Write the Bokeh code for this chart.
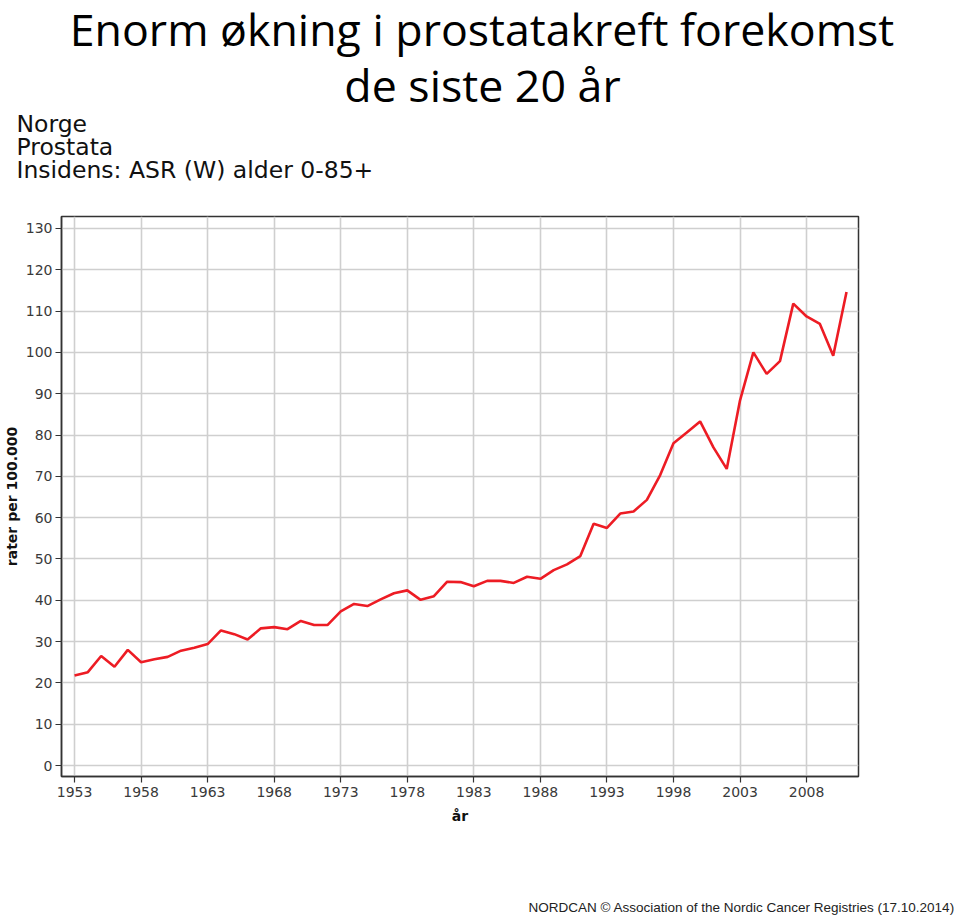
from bokeh.plotting import figure
from bokeh.models import Label, FixedTicker, Range1d
from bokeh.layouts import column
from bokeh.embed import file_html
from bokeh.resources import INLINE

years = list(range(1953, 2012))
rates = [21.8, 22.6, 26.5, 23.9, 28.0, 25.0, 25.7, 26.3, 27.8, 28.5,
         29.4, 32.7, 31.8, 30.5, 33.2, 33.5, 33.0, 35.0, 34.0, 34.0,
         37.3, 39.1, 38.6, 40.2, 41.7, 42.4, 40.1, 41.0, 44.5, 44.4,
         43.4, 44.7, 44.7, 44.2, 45.7, 45.2, 47.3, 48.7, 50.7, 58.5,
         57.5, 61.0, 61.5, 64.3, 70.3, 78.0, 80.6, 83.3, 77.0, 71.8,
         88.4, 100.0, 94.8, 97.9, 111.8, 108.7, 106.9, 99.2, 114.6]
x_ticks = [1953, 1958, 1963, 1968, 1973, 1978, 1983, 1988, 1993, 1998, 2003, 2008]
y_ticks = [0, 10, 20, 30, 40, 50, 60, 70, 80, 90, 100, 110, 120, 130]

title_lines = ["Enorm økning i prostatakreft forekomst", "de siste 20 år"]
subtitle_lines = ["Norge", "Prostata", "Insidens: ASR (W) alder 0-85+"]
x_label = "år"
y_label = "rater per 100.000"
footer = "NORDCAN © Association of the Nordic Cancer Registries (17.10.2014)"

W = 960
TOP_H = 206      # header strip
CHART_H = 690    # chart strip (frame from 216 to 776 on the page)
FOOT_H = 25      # footer strip
FL, FR = 61, 858


def text_strip(height):
    s = figure(width=W, height=height, output_backend="svg", toolbar_location=None,
               x_axis_location=None, y_axis_location=None, min_border=0,
               x_range=Range1d(0, 1), y_range=Range1d(0, 1), frame_align=False)
    s.outline_line_color = None
    s.grid.visible = False
    s.background_fill_color = "white"
    s.border_fill_color = "white"
    return s


def put(strip, height, text, cx, cy, font, size, align="left", color="black",
        style="normal"):
    strip.add_layout(Label(x=cx, y=height - cy, x_units="screen", y_units="screen",
                           text=text, text_font=font, text_font_size=size,
                           text_align=align, text_baseline="alphabetic",
                           text_color=color, text_font_style=style))


# ---- header -------------------------------------------------------------
head = text_strip(TOP_H)
put(head, TOP_H, title_lines[0], 481.5, 28, "Open Sans", "44.7px", align="center")
put(head, TOP_H, title_lines[1], 482, 84, "Open Sans", "44.7px", align="center")
for i, t in enumerate(subtitle_lines):
    put(head, TOP_H, t, 16, 123 + i * 23, "DejaVu Sans", "23.5px", color="#111111")

# ---- chart --------------------------------------------------------------
p = figure(width=W, height=CHART_H, output_backend="svg", toolbar_location=None,
           x_range=Range1d(1952.02, 2011.9), y_range=Range1d(-2.66, 132.9),
           min_border_left=FL, min_border_right=W - FR,
           min_border_top=10, min_border_bottom=120, frame_align=False)
p.background_fill_color = "white"
p.border_fill_color = "white"
p.outline_line_color = "#333333"
p.outline_line_width = 1.5

p.line(years, rates, line_color="#ed1c24", line_width=2.6)

for ax in (p.xaxis[0], p.yaxis[0]):
    ax.axis_line_color = "#333333"
    ax.axis_line_width = 1.5
    ax.major_tick_line_color = "#333333"
    ax.major_tick_line_width = 1.2
    ax.major_tick_out = 6
    ax.major_tick_in = 0
    ax.minor_tick_line_color = None
    ax.major_label_text_font = "DejaVu Sans"
    ax.major_label_text_font_size = "14px"
    ax.major_label_text_color = "#3a3a3a"
    ax.axis_label_text_font = "DejaVu Sans"
    ax.axis_label_text_font_size = "14px"
    ax.axis_label_text_font_style = "bold"
    ax.axis_label_text_color = "#111111"

p.xaxis.ticker = FixedTicker(ticks=x_ticks)
p.yaxis.ticker = FixedTicker(ticks=y_ticks)
p.xaxis.major_label_standoff = 4
p.yaxis.major_label_standoff = 3
p.xaxis.axis_label = x_label
p.yaxis.axis_label = y_label
p.xaxis.axis_label_standoff = 8
p.yaxis.axis_label_standoff = 3

p.xgrid.ticker = FixedTicker(ticks=x_ticks)
p.ygrid.ticker = FixedTicker(ticks=y_ticks)
for g in (p.xgrid[0], p.ygrid[0]):
    g.grid_line_color = "#cfcfcf"
    g.grid_line_width = 1.6

# ---- footer -------------------------------------------------------------
foot = text_strip(FOOT_H)
put(foot, FOOT_H, footer, 528, 11, "Liberation Sans", "13.5px", color="#222222")

layout = column(head, p, foot, spacing=0)
open("out.html", "w").write(file_html(layout, INLINE))
